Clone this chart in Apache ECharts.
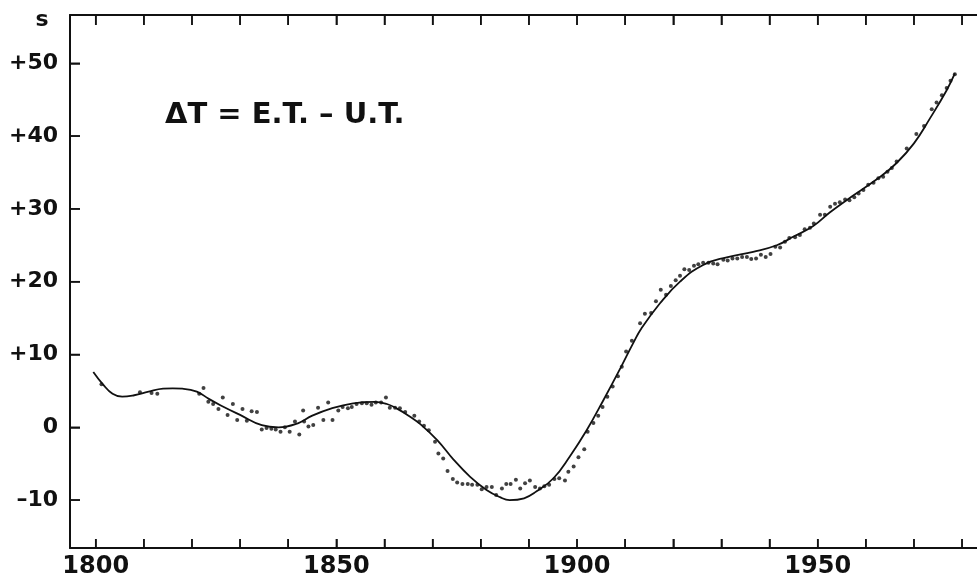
<!DOCTYPE html>
<html>
<head>
<meta charset="utf-8">
<title>Delta T</title>
<script src="https://cdn.jsdelivr.net/npm/echarts@6/dist/echarts.min.js"></script>
<style>
  html, body { margin: 0; padding: 0; background: #fff; }
  #chart { width: 977px; height: 581px; }
</style>
</head>
<body>
<div id="chart"></div>
<script>
const obsYears = [
  1801.2, 1809.2, 1811.6, 1812.8, 1821.5, 1822.4, 1823.4, 1824.4, 1825.5, 1826.4,
  1827.4, 1828.5, 1829.4, 1830.5, 1831.4, 1832.4, 1833.5, 1834.5, 1835.5, 1836.5,
  1837.4, 1838.4, 1839.3, 1840.3, 1841.4, 1842.3, 1843.1, 1843.3, 1844.2, 1845.2,
  1846.2, 1847.3, 1848.3, 1849.2, 1850.4, 1851.3, 1852.4, 1853.2, 1854.2, 1855.3,
  1856.3, 1857.3, 1858.2, 1859.3, 1860.3, 1861.1, 1862.2, 1863.2, 1864.3, 1866.2,
  1867.2, 1868.2, 1869.2, 1870.5, 1871.2, 1872.2, 1873.1, 1874.2, 1875.1, 1876.2,
  1877.3, 1878.2, 1879.3, 1880.2, 1881.2, 1882.3, 1883.2, 1884.4, 1885.3, 1886.2,
  1887.3, 1888.2, 1889.2, 1890.2, 1891.3, 1892.3, 1893.2, 1894.2, 1895.3, 1896.3,
  1897.5, 1898.2, 1899.3, 1900.3, 1901.5, 1902.2, 1903.4, 1904.4, 1905.3, 1906.3,
  1907.4, 1908.5, 1909.3, 1910.2, 1911.4, 1913.1, 1914.1, 1915.4, 1916.4, 1917.4,
  1918.5, 1919.5, 1920.5, 1921.4, 1922.3, 1923.3, 1924.3, 1925.2, 1926.2, 1927.3,
  1928.3, 1929.2, 1930.4, 1931.3, 1932.3, 1933.3, 1934.3, 1935.3, 1936.2, 1937.2,
  1938.2, 1939.2, 1940.2, 1941.2, 1942.2, 1943.2, 1944.1, 1945.3, 1946.3, 1947.3,
  1948.4, 1949.2, 1950.5, 1951.5, 1952.6, 1953.6, 1954.6, 1955.7, 1956.6, 1957.6,
  1958.5, 1959.5, 1960.5, 1961.6, 1962.6, 1963.6, 1964.5, 1965.4, 1966.4, 1968.5,
  1970.5, 1972.1, 1973.7, 1974.7, 1975.8, 1976.8, 1977.6, 1978.5
];
const obsValues = [
  5.9, 4.8, 4.7, 4.6, 4.6, 5.4, 3.5, 3.2, 2.5, 4.1,
  1.7, 3.2, 1.0, 2.5, 0.9, 2.2, 2.1, -0.3, -0.1, -0.2,
  -0.3, -0.6, 0.0, -0.6, 0.8, -1.0, 2.3, 0.8, 0.1, 0.3,
  2.7, 1.0, 3.4, 1.0, 2.3, 2.8, 2.6, 2.8, 3.2, 3.3,
  3.3, 3.1, 3.4, 3.4, 4.1, 2.7, 2.7, 2.6, 2.1, 1.6,
  0.8, 0.2, -0.4, -2.0, -3.6, -4.3, -6.0, -7.1, -7.6, -7.8,
  -7.8, -7.9, -7.9, -8.5, -8.2, -8.2, -9.3, -8.4, -7.8, -7.8,
  -7.2, -8.4, -7.7, -7.3, -8.2, -8.4, -8.1, -7.9, -7.1, -7.0,
  -7.3, -6.1, -5.4, -4.1, -3.0, -0.6, 0.6, 1.6, 2.8, 4.2,
  5.6, 7.0, 8.3, 10.4, 11.9, 14.3, 15.6, 15.7, 17.3, 18.9,
  18.2, 19.4, 20.2, 20.8, 21.7, 21.6, 22.2, 22.4, 22.6, 22.6,
  22.5, 22.4, 23.0, 22.9, 23.2, 23.2, 23.4, 23.4, 23.1, 23.2,
  23.7, 23.4, 23.8, 24.8, 24.7, 25.5, 26.0, 26.1, 26.4, 27.2,
  27.4, 28.0, 29.2, 29.2, 30.3, 30.7, 30.9, 31.3, 31.2, 31.6,
  32.1, 32.6, 33.3, 33.6, 34.2, 34.4, 35.1, 35.6, 36.5, 38.3,
  40.3, 41.4, 43.7, 44.6, 45.6, 46.6, 47.6, 48.5
];

// smoothed curve
const curveYears = [
  1799.5, 1801.5, 1803.5, 1805.5, 1808, 1811, 1814, 1816, 1818, 1821,
  1823.5, 1826, 1830, 1834.5, 1838, 1842, 1845, 1849, 1853.5, 1858,
  1860.5, 1862.5, 1865, 1867.5, 1871, 1874.3, 1877.8, 1881.2, 1884, 1886,
  1889, 1891.6, 1895.1, 1898.5, 1902, 1905.5, 1909, 1911.7, 1913.4, 1917.2,
  1921.4, 1926.2, 1931.1, 1936.6, 1941.5, 1945, 1949, 1952.5, 1956, 1963,
  1966.4, 1970, 1973.3, 1976.8, 1978.5
];
const curveValues = [
  7.6, 5.9, 4.6, 4.2, 4.4, 4.9, 5.3, 5.35, 5.3, 4.9,
  3.9, 3.0, 1.7, 0.3, 0.0, 0.55, 1.6, 2.6, 3.3, 3.5,
  3.2, 2.6, 1.6, 0.4, -1.8, -4.4, -6.8, -8.6, -9.6, -10.0,
  -9.75, -8.8, -7.0, -4.0, -0.4, 3.75, 8.1, 11.6, 13.6, 17.0,
  20.0, 22.3, 23.35, 24.1, 25.0, 26.2, 27.6, 29.5, 31.2, 34.4,
  36.3, 39.0, 42.4, 46.3, 48.6
];

const xTicks = [1800, 1810, 1820, 1830, 1840, 1850, 1860, 1870, 1880, 1890, 1900, 1910, 1920, 1930, 1940, 1950, 1960, 1970, 1980];
const xLabels = [1800, 1850, 1900, 1950];
const yTicks = [-10, 0, 10, 20, 30, 40, 50];

const X_MIN = 1794.66, X_MAX = 1983.1;
const Y_MIN = -16.58, Y_MAX = 56.63;

const chart = echarts.init(document.getElementById('chart'));

const ink = '#111';
const tickLine = { color: ink, width: 1.5 };

const titleGraphic = [
  {
    type: 'text',
    left: 165,
    top: 101,
    style: {
      text: '\u0394T = E.T. \u2013 U.T.',
      fill: ink,
      font: 'bold 29px "DejaVu Sans"'
    }
  },
  {
    type: 'text',
    style: {
      x: 42,
      y: 20,
      text: 's',
      align: 'center',
      verticalAlign: 'middle',
      fill: ink,
      font: 'bold 22px "DejaVu Sans"'
    }
  }
];

const option = {
  animation: false,
  grid: { left: 70, right: 0, top: 15, bottom: 33 },
  xAxis: [
    {
      type: 'value',
      min: X_MIN,
      max: X_MAX,
      splitLine: { show: false },
      axisLine: { show: true, onZero: false, lineStyle: { color: ink, width: 2 } },
      axisTick: { show: true, inside: true, length: 9, customValues: xTicks, lineStyle: tickLine },
      axisLabel: {
        customValues: xLabels,
        margin: 7,
        color: ink,
        fontFamily: 'DejaVu Sans',
        fontWeight: 'bold',
        fontSize: 24,
        formatter: function (v) { return String(v); }
      }
    },
    {
      type: 'value',
      position: 'top',
      min: X_MIN,
      max: X_MAX,
      splitLine: { show: false },
      axisLine: { show: true, onZero: false, lineStyle: { color: ink, width: 2 } },
      axisTick: { show: true, inside: true, length: 10, customValues: xTicks, lineStyle: tickLine },
      axisLabel: { show: false }
    }
  ],
  yAxis: {
    type: 'value',
    min: Y_MIN,
    max: Y_MAX,
    splitLine: { show: false },
    axisLine: { show: true, onZero: false, lineStyle: { color: ink, width: 2 } },
    axisTick: { show: true, inside: true, length: 10, customValues: yTicks, lineStyle: tickLine },
    axisLabel: {
      customValues: yTicks,
      margin: 12,
      color: ink,
      fontFamily: 'DejaVu Sans',
      fontWeight: 'bold',
      fontSize: 22,
      formatter: function (v) {
        if (v > 0) return '+' + v;
        if (v < 0) return '\u2013' + (-v);
        return '0';
      }
    }
  },
  graphic: titleGraphic,
  series: [
    {
      name: 'smoothed',
      type: 'line',
      data: curveYears.map((y, i) => [y, curveValues[i]]),
      smooth: 0.45,
      showSymbol: false,
      lineStyle: { color: ink, width: 1.8 },
      z: 2
    },
    {
      name: 'observed',
      type: 'scatter',
      data: obsYears.map((y, i) => [y, obsValues[i]]),
      symbol: 'circle',
      symbolSize: 4,
      itemStyle: { color: ink },
      z: 3
    }
  ]
};

chart.setOption(option);

// inward tick marks, positioned through the chart's own scales
const toPx = v => chart.convertToPixel({ gridIndex: 0 }, v);
const tickMarks = [];
function addTick(p, dx, dy) {
  tickMarks.push({
    type: 'line',
    silent: true,
    z: 50,
    shape: { x1: p[0], y1: p[1], x2: p[0] + dx, y2: p[1] + dy },
    style: { stroke: ink, lineWidth: 1.5 }
  });
}
xTicks.forEach(v => {
  addTick(toPx([v, Y_MIN]), 0, -9);
  addTick(toPx([v, Y_MAX]), 0, 10);
});
yTicks.forEach(v => {
  addTick(toPx([X_MIN, v]), 10, 0);
});
chart.setOption({ graphic: titleGraphic.concat(tickMarks) });
</script>
</body>
</html>
